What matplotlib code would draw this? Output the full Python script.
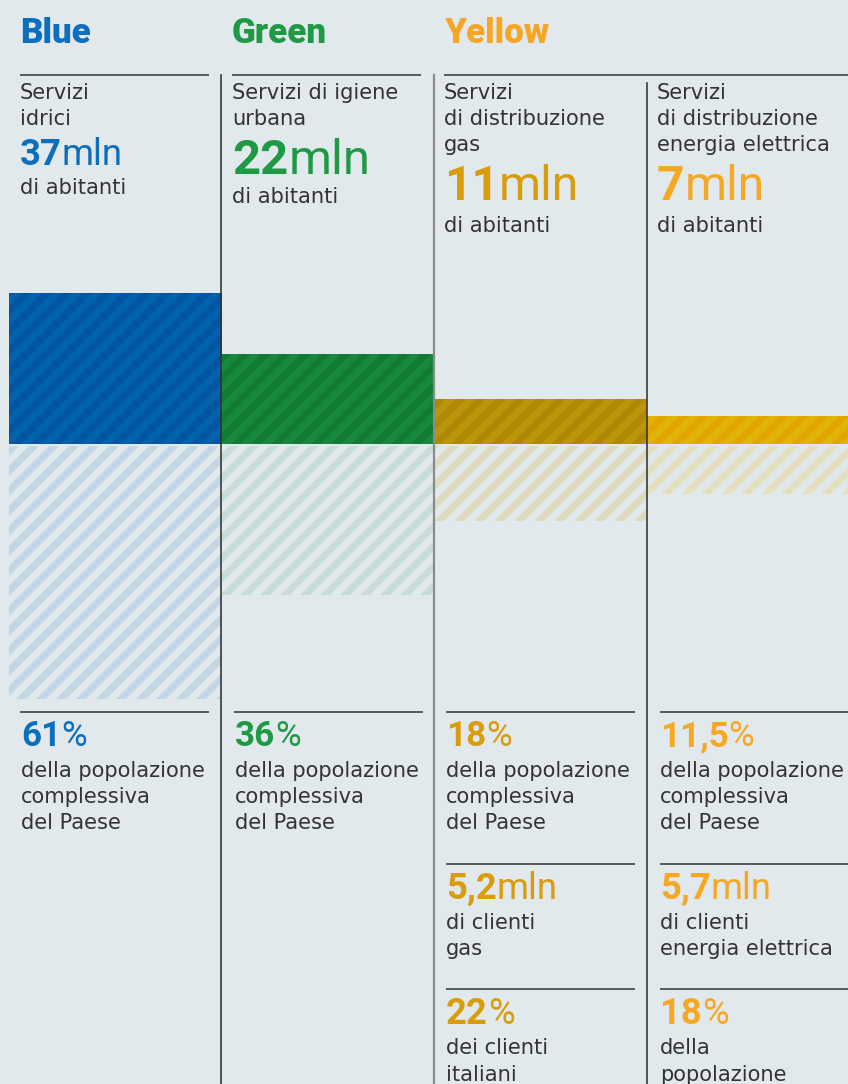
import matplotlib
matplotlib.use("Agg")
import matplotlib.pyplot as plt

DPI = 120
W, H = 848, 1084

BG = "#e2e9ed"
TEXT = "#333333"
BODY_FONT = "DejaVu Sans"
NUM_FONT = "Roboto"

# ---- data -------------------------------------------------------------
groups = ["Blue", "Green", "Yellow"]
group_colors = ["#0b6fbd", "#1f9943", "#f6a623"]

services = [
    "Servizi\nidrici",
    "Servizi di igiene\nurbana",
    "Servizi\ndi distribuzione\ngas",
    "Servizi\ndi distribuzione\nenergia elettrica",
]
inhabitants_mln = [37, 22, 11, 7]
inhabitants_lbl = ["37", "22", "11", "7"]
population_pct = [61, 36, 18, 11.5]
population_lbl = ["61", "36", "18", "11,5"]
clients_mln_lbl = ["5,2", "5,7"]
clients_text = ["di clienti\ngas", "di clienti\nenergia elettrica"]
share_pct_lbl = ["22", "18"]
share_text = ["dei clienti\nitaliani", "della\npopolazione"]

num_colors = ["#0b6fbd", "#1f9943", "#d89c0c", "#f7a823"]
bar_colors = ["#0062ad", "#18883c", "#bb960a", "#e3b409"]
stripe_colors = ["#0056a0", "#127a33", "#b08806", "#e2a600"]
light_stripe_colors = ["#c3d6e5", "#c7dcd4", "#dddabd", "#e4e0bf"]


def pt(px):
    return px * 72.0 / DPI


plt.rcParams["hatch.linewidth"] = 4.2

fig = plt.figure(figsize=(W / DPI, H / DPI), dpi=DPI, facecolor=BG)

# bar axes: column pitch 212.5 px starting at x=9, baseline at y=444
left = 9 / W
width = 4 * 212.5 / W
ax_up = fig.add_axes([left, (H - 444) / H, width, 300 / H])
ax_dn = fig.add_axes([left, (H - 446 - 300) / H, width, 300 / H])
for a in (ax_up, ax_dn):
    a.set_axis_off()
    a.patch.set_alpha(0)
    a.set_xlim(-0.5, 3.5)
ax_up.set_ylim(0, 300 / 4.07)
ax_dn.set_ylim(300 / 4.15, 0)

xs = range(len(inhabitants_mln))
for i in xs:
    ax_up.bar(i, inhabitants_mln[i], width=1.0, color=bar_colors[i],
              edgecolor=stripe_colors[i], linewidth=0, hatch="//")
    ax_dn.bar(i, population_pct[i], width=1.0, color="none",
              edgecolor=light_stripe_colors[i], linewidth=0, hatch="//")

# overlay in pixel coordinates for text and rules
ax = fig.add_axes([0, 0, 1, 1], zorder=5)
ax.set_xlim(0, W)
ax.set_ylim(H, 0)
ax.set_axis_off()
ax.patch.set_alpha(0)


def hrule(x0, x1, y):
    ax.plot([x0, x1], [y, y], color="#3a3a3a", lw=pt(1.6), solid_capstyle="butt")


def body(x, y, text, step=26):
    for k, line in enumerate(text.split("\n")):
        ax.text(x, y + k * step, line, fontsize=pt(21), color=TEXT,
                family=BODY_FONT, va="baseline", ha="left")


def big(x, y, num, unit, color, size):
    t = ax.text(x, y, num, fontsize=pt(size), fontweight="bold", color=color,
                family=NUM_FONT, va="baseline", ha="left")
    ax.annotate(unit, xy=(1, 0), xycoords=t, fontsize=pt(size),
                fontweight="normal", color=color, family=NUM_FONT,
                va="bottom", ha="left")


# titles
title_x = [20, 232, 444]
for gx, g, c in zip(title_x, groups, group_colors):
    ax.text(gx, 43, g, fontsize=pt(35), fontweight="heavy", color=c,
            family=NUM_FONT, va="baseline", ha="left")

# top rules
hrule(20, 209, 75)
hrule(232, 421, 75)
hrule(444, W, 75)

# column separators
ax.plot([221, 221], [75, H], color="#333333", lw=pt(1.6))
ax.plot([434, 434], [75, H], color="#8a8a8a", lw=pt(2.2))
ax.plot([647, 647], [83, H], color="#333333", lw=pt(1.6))

# upper texts
col_x = [20, 232, 444, 657]
num_base = [165, 174, 200, 200]
num_size = [36.5, 49, 48, 48]
abit_base = [194, 203, 232, 232]
for i in xs:
    body(col_x[i], 99, services[i])
    big(col_x[i], num_base[i], inhabitants_lbl[i], "mln", num_colors[i], num_size[i])
    body(col_x[i], abit_base[i], "di abitanti")

# lower texts
low_x = [21, 235, 446, 660]
rule_spans = [(20, 209), (234, 423), (446, 635), (660, W)]
for i in xs:
    hrule(rule_spans[i][0], rule_spans[i][1], 712)
    big(low_x[i], 746, population_lbl[i], "%", num_colors[i], 35)
    body(low_x[i], 777, "della popolazione\ncomplessiva\ndel Paese")

for j, i in enumerate([2, 3]):
    hrule(rule_spans[i][0], rule_spans[i][1], 864)
    big(low_x[i], 899, clients_mln_lbl[j], "mln", num_colors[i], 36.5)
    body(low_x[i], 929, clients_text[j])
    hrule(rule_spans[i][0], rule_spans[i][1], 989)
    big(low_x[i], 1024, share_pct_lbl[j], "%", num_colors[i], 36.5)
    body(low_x[i], 1054, share_text[j], step=27)

fig.savefig("out.png", dpi=DPI, facecolor=BG)
